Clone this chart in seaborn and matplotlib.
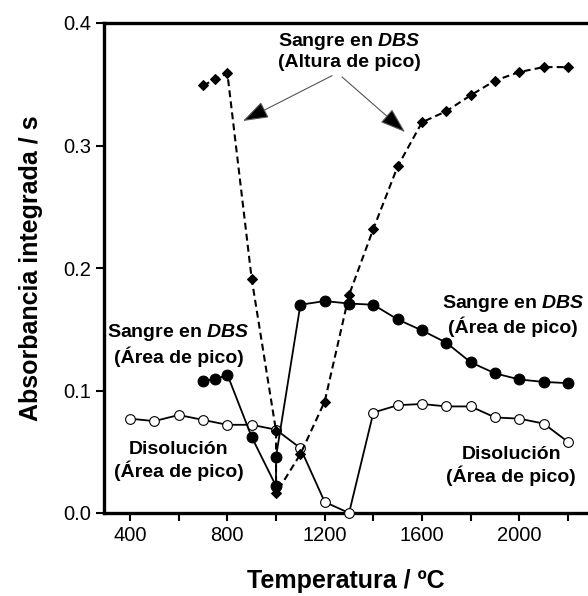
import matplotlib
matplotlib.use("Agg")
import matplotlib.pyplot as plt
import seaborn as sns

# Disolución (área de pico)
temp_disol = [400, 500, 600, 700, 800, 900, 1000, 1100, 1200, 1300,
              1400, 1500, 1600, 1700, 1800, 1900, 2000, 2100, 2200]
abs_disol = [0.077, 0.075, 0.080, 0.076, 0.072, 0.072, 0.068, 0.053, 0.009, 0.000,
             0.082, 0.088, 0.089, 0.087, 0.087, 0.078, 0.077, 0.073, 0.058]

# Sangre en DBS (área de pico)
temp_area = [700, 750, 800, 900, 1000, 1000, 1100, 1200, 1300,
             1400, 1500, 1600, 1700, 1800, 1900, 2000, 2100, 2200]
abs_area = [0.108, 0.109, 0.113, 0.062, 0.022, 0.046, 0.170, 0.173, 0.171,
            0.170, 0.158, 0.149, 0.139, 0.123, 0.114, 0.109, 0.107, 0.106]

# Sangre en DBS (altura de pico)
temp_altura = [700, 750, 800, 900, 1000, 1000, 1100, 1200, 1300,
               1400, 1500, 1600, 1700, 1800, 1900, 2000, 2100, 2200]
abs_altura = [0.349, 0.354, 0.359, 0.191, 0.067, 0.016, 0.048, 0.091, 0.178,
              0.232, 0.283, 0.319, 0.328, 0.341, 0.353, 0.360, 0.364, 0.364]

x_ticks = [400, 600, 800, 1000, 1200, 1400, 1600, 1800, 2000, 2200]
x_ticklabels = ["400", "", "800", "", "1200", "", "1600", "", "2000", ""]
y_ticks = [0.0, 0.1, 0.2, 0.3, 0.4]
y_ticklabels = ["0.0", "0.1", "0.2", "0.3", "0.4"]

sns.set_theme(style="ticks")
plt.rcParams["font.family"] = ["Liberation Sans", "DejaVu Sans"]
plt.rcParams["text.color"] = "black"
plt.rcParams["axes.labelcolor"] = "black"
plt.rcParams["mathtext.fontset"] = "custom"
plt.rcParams["mathtext.it"] = "Liberation Sans:italic:bold"
plt.rcParams["mathtext.rm"] = "Liberation Sans:bold"
plt.rcParams["lines.scale_dashes"] = False

fig = plt.figure(figsize=(5.88, 5.96), dpi=100)
ax = fig.add_axes([104 / 588, 83 / 596, 484 / 588, 490 / 596])

sns.lineplot(x=temp_disol, y=abs_disol, ax=ax, estimator=None, sort=False,
             errorbar=None, color="black", linewidth=1.3, marker="o",
             markersize=7.0, markerfacecolor="white", markeredgecolor="black",
             markeredgewidth=0.8, clip_on=False, zorder=3)
sns.lineplot(x=temp_altura, y=abs_altura, ax=ax, estimator=None, sort=False,
             errorbar=None, color="black", linewidth=1.5, linestyle=(0, (5, 3)),
             marker="D", markersize=5.0, markerfacecolor="black",
             markeredgecolor="black", clip_on=False, zorder=4)
sns.lineplot(x=temp_area, y=abs_area, ax=ax, estimator=None, sort=False,
             errorbar=None, color="black", linewidth=1.3, marker="o",
             markersize=7.8, markerfacecolor="black", markeredgecolor="black",
             clip_on=False, zorder=5)

ax.set_xlim(293, 2282)
ax.set_ylim(0, 0.4)
ax.set_xticks(x_ticks)
ax.set_xticklabels(x_ticklabels)
ax.set_yticks(y_ticks)
ax.set_yticklabels(y_ticklabels)
ax.tick_params(direction="out", length=5.5, width=1.5, labelsize=14.5,
               pad=4, color="black", labelcolor="black")

for side in ["left", "bottom", "top"]:
    ax.spines[side].set_linewidth(2.4)
    ax.spines[side].set_color("black")
ax.spines["right"].set_visible(False)

ax.set_xlabel("Temperatura / ºC", fontsize=18, fontweight="bold", color="black")
ax.set_ylabel("Absorbancia integrada / s", fontsize=18, fontweight="bold",
              color="black")
ax.xaxis.set_label_coords(0.5, -0.115)
ax.yaxis.set_label_coords(-0.125, 0.5)

txt = dict(fontsize=14, fontweight="bold", ha="center", va="center",
           multialignment="center", color="black")
ax.text(1300, 0.377, "Sangre en $DBS$\n(Altura de pico)", **txt)
ax.text(600, 0.1375, "Sangre en $DBS$\n(Área de pico)", **txt)
ax.text(1974, 0.1616, "Sangre en $DBS$\n(Área de pico)", **txt)
ax.text(600, 0.0424, "Disolución\n(Área de pico)", **txt)
ax.text(1966, 0.0384, "Disolución\n(Área de pico)", **txt)

arrow = dict(arrowstyle="-|>,head_length=1.6,head_width=0.55",
             mutation_scale=10, fc="black", ec="#555555", lw=0.8,
             shrinkA=0, shrinkB=0)
ax.annotate("", xy=(864, 0.320), xytext=(1230, 0.357), arrowprops=arrow)
ax.annotate("", xy=(1530, 0.311), xytext=(1271, 0.356), arrowprops=arrow)

fig.savefig("out.png", dpi=100)
